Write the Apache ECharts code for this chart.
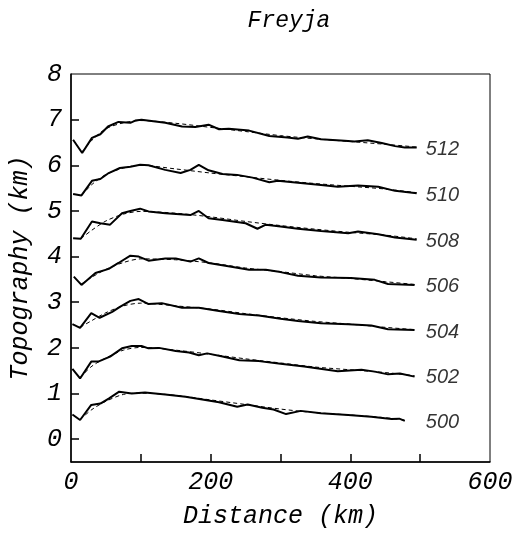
<!DOCTYPE html>
<html>
<head>
<meta charset="utf-8">
<script src="https://cdn.jsdelivr.net/npm/echarts@6/dist/echarts.min.js"></script>
<style>
  html, body { margin: 0; padding: 0; background: #fff; }
  #container { width: 520px; height: 538px; }
</style>
</head>
<body>
<div id="container"></div>
<script>
// profile names, bottom to top
var names = ['500', '502', '504', '506', '508', '510', '512'];

// observed topography [distance km, height km] (solid)
var p500 = [[2,0.54],[13,0.42],[29,0.75],[42,0.78],[54,0.89],[69,1.04],[87,1.0],[106,1.02],[135,0.98],[164,0.93],[188,0.87],[212,0.81],[238,0.71],[253,0.76],[274,0.69],[290,0.65],[308,0.55],[329,0.62],[358,0.57],[397,0.53],[430,0.49],[459,0.44],[470,0.45],[478,0.40]];
var p502 = [[2,1.54],[13,1.33],[29,1.70],[39,1.70],[56,1.81],[73,1.99],[87,2.04],[101,2.04],[111,1.99],[126,2.0],[150,1.93],[169,1.90],[183,1.84],[195,1.88],[217,1.81],[241,1.73],[269,1.71],[300,1.65],[334,1.59],[382,1.49],[416,1.52],[435,1.48],[454,1.42],[471,1.44],[492,1.37]];
var p504 = [[2,2.52],[13,2.44],[29,2.76],[41,2.66],[59,2.79],[70,2.90],[85,3.03],[97,3.07],[111,2.96],[130,2.98],[159,2.88],[183,2.88],[212,2.81],[241,2.74],[269,2.71],[300,2.64],[325,2.59],[358,2.54],[397,2.52],[430,2.49],[454,2.41],[492,2.39]];
var p506 = [[4,3.56],[15,3.38],[35,3.64],[54,3.73],[68,3.86],[85,4.02],[97,4.0],[111,3.91],[135,3.96],[150,3.96],[171,3.89],[183,3.96],[197,3.86],[221,3.80],[255,3.71],[279,3.71],[300,3.66],[325,3.58],[358,3.54],[401,3.53],[435,3.49],[454,3.40],[492,3.38]];
var p508 = [[3,4.40],[14,4.39],[30,4.77],[42,4.73],[56,4.70],[73,4.95],[85,5.0],[99,5.05],[111,4.99],[135,4.95],[171,4.91],[183,5.0],[197,4.84],[217,4.80],[250,4.73],[267,4.61],[279,4.70],[300,4.66],[325,4.61],[358,4.56],[397,4.51],[411,4.55],[440,4.49],[464,4.42],[495,4.37]];
var p510 = [[3,5.37],[15,5.34],[30,5.66],[42,5.70],[54,5.83],[70,5.94],[85,5.97],[99,6.01],[111,6.0],[135,5.90],[157,5.83],[171,5.90],[183,6.01],[197,5.89],[217,5.81],[238,5.79],[260,5.73],[284,5.63],[296,5.66],[325,5.62],[358,5.57],[382,5.53],[411,5.56],[440,5.53],[464,5.44],[495,5.39]];
var p512 = [[3,6.56],[16,6.27],[30,6.60],[42,6.68],[53,6.85],[68,6.95],[85,6.93],[92,6.98],[101,7.0],[135,6.93],[159,6.85],[178,6.84],[197,6.89],[212,6.79],[226,6.80],[255,6.76],[284,6.64],[310,6.61],[325,6.58],[339,6.63],[358,6.57],[392,6.54],[406,6.52],[425,6.55],[445,6.49],[464,6.42],[478,6.39],[495,6.39]];

// model fits (dashed)
var f500 = [[13,0.43],[30,0.65],[50,0.83],[75,0.98],[100,1.01],[150,0.96],[200,0.86],[250,0.76],[300,0.66],[350,0.58],[400,0.53],[450,0.47],[478,0.42]];
var f502 = [[13,1.35],[30,1.60],[50,1.78],[75,1.95],[100,2.01],[150,1.95],[200,1.86],[250,1.76],[300,1.67],[350,1.58],[400,1.52],[450,1.46],[492,1.39]];
var f504 = [[13,2.45],[30,2.60],[50,2.77],[75,2.92],[100,2.98],[150,2.92],[200,2.85],[250,2.75],[300,2.66],[350,2.58],[400,2.52],[450,2.45],[492,2.40]];
var f506 = [[15,3.40],[30,3.55],[50,3.72],[75,3.87],[100,3.95],[150,3.93],[200,3.86],[250,3.75],[300,3.67],[350,3.58],[400,3.52],[450,3.45],[492,3.39]];
var f508 = [[14,4.39],[30,4.58],[50,4.78],[75,4.93],[100,4.99],[150,4.95],[200,4.87],[250,4.77],[300,4.68],[350,4.60],[400,4.53],[450,4.47],[495,4.39]];
var f510 = [[15,5.34],[30,5.58],[50,5.80],[75,5.94],[100,6.0],[150,5.92],[200,5.83],[250,5.75],[300,5.67],[350,5.60],[400,5.54],[450,5.48],[495,5.40]];
var f512 = [[15,6.28],[30,6.55],[50,6.80],[75,6.93],[100,6.98],[150,6.92],[200,6.83],[250,6.74],[300,6.65],[350,6.58],[400,6.52],[450,6.46],[495,6.40]];

var observed = [p500, p502, p504, p506, p508, p510, p512];
var fitted = [f500, f502, f504, f506, f508, f510, f512];

// where the profile numbers sit
var labelX = 508;
var labelY = [0.37, 1.35, 2.34, 3.34, 4.34, 5.35, 6.34];

// axis ticks / labels
var xTicks = [100, 200, 300, 400, 500];
var xLabels = [0, 200, 400, 600];
var yTicks = [0, 1, 2, 3, 4, 5, 6, 7];
var yLabels = [0, 1, 2, 3, 4, 5, 6, 7, 8];

var mono = 'Liberation Mono';
var series = [];
for (var i = 0; i < names.length; i++) {
	series.push({
		name: names[i],
		type: 'line',
		data: observed[i],
		symbol: 'none',
		lineStyle: {color: '#000', width: 2},
		z: 3
	});
	series.push({
		name: names[i] + ' fit',
		type: 'line',
		data: fitted[i],
		symbol: 'none',
		smooth: 0.3,
		lineStyle: {color: '#000', width: 1, type: [4, 3]},
		z: 2
	});
}
var labelData = [];
for (var j = 0; j < names.length; j++) {
	labelData.push({name: names[j], value: [labelX, labelY[j]]});
}
series.push({
	type: 'scatter',
	data: labelData,
	symbolSize: 0,
	silent: true,
	label: {
		show: true,
		position: 'right',
		distance: 0,
		formatter: '{b}',
		color: '#000',
		fontFamily: 'Liberation Sans',
		fontStyle: 'italic',
		fontSize: 20
	}
});

var myChart = echarts.init(document.getElementById('container'));
myChart.setOption({
	backgroundColor: '#fff',
	animation: false,
	title: {
		text: 'Freyja',
		left: 284,
		textAlign: 'center',
		top: 4,
		textStyle: {fontFamily: mono, fontStyle: 'italic', fontWeight: 'normal', fontSize: 23, color: '#000'}
	},
	grid: {left: 71, right: 30, top: 74, bottom: 76, show: true, borderColor: '#000', borderWidth: 1},
	xAxis: {
		type: 'value',
		min: 0,
		max: 600,
		name: 'Distance (km)',
		nameLocation: 'middle',
		nameGap: 42,
		nameTextStyle: {fontFamily: mono, fontStyle: 'italic', fontSize: 25, color: '#000'},
		axisLine: {onZero: false, lineStyle: {color: '#000', width: 1.5}},
		axisTick: {show: true, inside: true, length: 8, lineStyle: {color: '#000', width: 1.5}, customValues: xTicks},
		axisLabel: {customValues: xLabels, margin: 8, fontFamily: mono, fontStyle: 'italic', fontSize: 25, color: '#000'},
		splitLine: {show: false}
	},
	yAxis: {
		type: 'value',
		min: -0.5,
		max: 8,
		name: 'Topography (km)',
		nameLocation: 'middle',
		nameGap: 38,
		nameTextStyle: {fontFamily: mono, fontStyle: 'italic', fontSize: 25, color: '#000'},
		axisLine: {show: true, onZero: false, lineStyle: {color: '#000', width: 1.5}},
		axisTick: {show: true, inside: true, length: 8, lineStyle: {color: '#000', width: 1.5}, customValues: yTicks},
		axisLabel: {customValues: yLabels, margin: 9, fontFamily: mono, fontStyle: 'italic', fontSize: 25, color: '#000'},
		splitLine: {show: false}
	},
	series: series
});
</script>
</body>
</html>
